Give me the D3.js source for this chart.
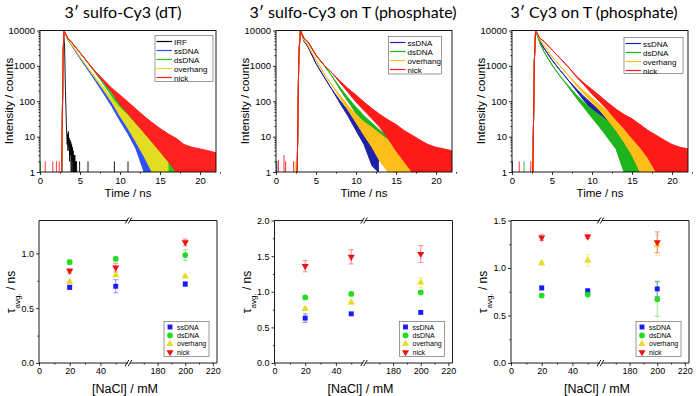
<!DOCTYPE html>
<html>
<head>
<meta charset="utf-8">
<script src="https://cdn.jsdelivr.net/npm/d3@7"></script>
<style>
  body { margin: 0; background: #fff; }
  svg { display: block; font-family: "Liberation Sans", Arial, sans-serif; }
</style>
</head>
<body>
<script>
const width = 696;
const height = 396;

const panelTitles = ['3\u2032 sulfo-Cy3 (dT)', '3\u2032 sulfo-Cy3 on T (phosphate)', '3\u2032 Cy3 on T (phosphate)'];
const seriesNames = ['ssDNA', 'dsDNA', 'overhang', 'nick'];
const timeTicks = [0, 5, 10, 15, 20];
const countTicks = [1, 10, 100, 1000, 10000];
const naclTicks = [0, 20, 40, 180, 200, 220];
const naclValues = [20, 50, 200];

// decay histograms: [time / ns, lower counts, upper counts]
// (lower/upper = extent of the noisy band, equal where the trace is clean)
const dT_irf = [[2.75,1],[2.85,300],[2.95,6000],[3.0,10000],[3.08,3000],[3.18,200],[3.3,20],[3.4,6],[3.45,12],[3.5,4],[3.55,14],
  [3.6,5],[3.65,9],[3.7,2],[3.75,8],[3.8,3],[3.85,7],[3.9,1],[3.95,6],[4.0,2],[4.05,5],[4.1,1],[4.15,4],[4.2,1],[4.25,3],
  [4.3,1],[4.35,3],[4.4,1],[4.45,2],[4.5,1],[4.55,2],[4.6,1]];
const dT_ssDNA = [[2.7,1,1],[2.9,2500,2500],[3.0,10000,10000],[3.5,5400,5400],[4,3700,3700],[5,1650,1650],[6,780,780],
  [7,355,385],[8,160,190],[9,70,95],[10,28,50],[11,12,28],[12,4.5,16],[13,1,9],[14,1,3],[14.2,1,1.5]];
const dT_dsDNA = [[2.7,1,1],[2.9,2500,2500],[3.0,10000,10000],[3.5,5900,5900],[4,4500,4500],[5,2350,2350],[6,1200,1200],
  [7,600,640],[8,290,330],[9,135,165],[10,56,90],[11,26,50],[12,11,28],[13,5,17],[14,2,9],[15,1,4.7],[16,1,3],[17,1,2]];
const dT_overhang = [[2.7,1,1],[2.9,2500,2500],[3.0,10000,10000],[3.5,5500,5500],[4,3900,3900],[5,1780,1780],[6,880,880],
  [7,415,445],[8,200,232],[9,92,120],[10,38,65],[11,17,40],[12,7,22],[13,2.8,13],[14,1,7],[15,1,3.8],[16,1,2]];
const dT_nick = [[2.7,1,1],[2.9,2500,2500],[3.0,10000,10000],[3.5,5900,5900],[4,4500,4500],[5,2350,2350],[6,1230,1230],
  [7,630,670],[8,335,390],[9,175,230],[10,80,150],[11,44,95],[12,24,60],[13,13,38],[14,7,25],[15,3.8,17],[16,2,12],
  [17,1,9],[18,1,6],[19,1,5],[20,1,4.5],[21,1,4],[22,1,3.5]];
const dT_spikes = [[0.05,2,'dsDNA'],[0.65,2,'nick'],[1.6,2,'nick'],[2.05,2,'nick'],[2.4,2,'nick'],
  [4.95,2,'IRF'],[6.0,2,'IRF'],[9.3,2,'IRF'],[11.0,2,'IRF']];

const sulfo_ssDNA = [[2.65,1,1],[2.85,2000,2000],[3.05,10000,10000],[3.5,5000,5000],[4,3450,3450],[5,1170,1170],[6,490,490],
  [7,214,214],[8,88,104],[9,38,54],[10,15,30],[11,6,17],[12,1.5,10],[12.8,1,3]];
const sulfo_dsDNA = [[2.65,1,1],[2.85,2000,2000],[3.05,10000,10000],[3.5,6000,6000],[4,4700,4700],[5,2000,2000],[6,1050,1050],
  [7,510,510],[8,215,245],[9,98,125],[10,46,68],[11,21,39],[12,9,24],[13,4,15],[14,1.5,10],[15,1,5],[16,1,3],[17,1,2]];
const sulfo_overhang = [[2.65,1,1],[2.85,2000,2000],[3.05,10000,10000],[3.5,5300,5300],[4,3800,3800],[5,1450,1450],[6,610,610],
  [7,285,285],[8,122,145],[9,57,76],[10,25,42],[11,11,26],[12,5,18],[13,2,12],[14,1,8],[15,1,5],[16,1,3.5],[17,1,2.5],[18,1,1.8]];
const sulfo_nick = [[2.65,1,1],[2.85,2000,2000],[3.05,10000,10000],[3.5,6000,6000],[4,4800,4800],[5,2000,2000],[6,1050,1050],
  [7,635,635],[8,335,375],[9,180,230],[10,95,150],[11,55,95],[12,32,62],[13,18,42],[14,9,30],[15,4,22],[16,2,15],
  [17,1,11],[18,1,8],[19,1,6],[20,1,5],[21,1,4.5],[22,1,4]];
const sulfo_spikes = [[0.1,2,'ssDNA'],[0.3,2.2,'nick'],[1.0,3,'nick'],[1.2,2,'nick'],[2.2,2,'nick'],[2.4,2,'overhang']];

const cy3_ssDNA = [[2.6,1,1],[2.8,1500,1500],[2.95,10000,10000],[3.5,4900,4900],[4,3150,3150],[5,1470,1470],[6,760,760],
  [7,400,400],[8,205,230],[9,105,135],[10,58,84],[11,34,55],[12,19,36],[13,10,25],[14,5,16],[15,2,11],[16,1,7],[17,1,4],[17.7,1,2.5]];
const cy3_dsDNA = [[2.6,1,1],[2.8,1500,1500],[2.95,10000,10000],[3.5,4370,4370],[4,2520,2520],[5,1060,1060],[6,515,515],
  [7,262,280],[8,128,156],[9,66,92],[10,34,58],[11,18,40],[12,9,27],[13,4.5,18],[14,1,12],[15,1,7],[16,1,4.5],[17,1,2.5]];
const cy3_overhang = [[2.6,1,1],[2.8,1500,1500],[2.95,10000,10000],[3.5,5450,5450],[4,3740,3740],[5,1830,1830],[6,1000,1000],
  [7,550,550],[8,285,315],[9,160,190],[10,92,125],[11,54,80],[12,29,50],[13,15,32],[14,7,24],[15,3,17],[16,1,10],[17,1,6],[18,1,4],[19,1,2.5]];
const cy3_nick = [[2.6,1,1],[2.8,1500,1500],[2.95,10000,10000],[3.5,6000,6000],[4,4900,4900],[5,2830,2830],[6,1650,1650],
  [7,950,950],[8,500,530],[9,290,325],[10,160,215],[11,95,140],[12,55,90],[13,30,60],[14,17,42],[15,9,32],[16,5,22],
  [17,2.5,15],[18,1,11],[19,1,8],[20,1,6],[21,1,5],[22,1,4.5]];
const cy3_spikes = [[0.05,2,'ssDNA'],[0.9,2,'nick'],[1.5,2,'dsDNA'],[2.35,2,'nick']];

// average lifetimes (ns) at 20, 50, 200 mM NaCl, rows in seriesNames order
const tauDT    = [[0.69, 0.70, 0.72], [0.92, 0.95, 0.985], [0.74, 0.80, 0.79], [0.84, 0.87, 1.10]];
const errDT    = [[0.02, 0.06, 0.02], [0.02, 0.02, 0.05], [0.01, 0.01, 0.01], [0.02, 0.04, 0.03]];
const tauSulfo = [[0.63, 0.69, 0.71], [0.92, 0.97, 0.99], [0.76, 0.85, 1.13], [1.36, 1.49, 1.53]];
const errSulfo = [[0.06, 0.02, 0.02], [0.02, 0.02, 0.02], [0.02, 0.02, 0.07], [0.08, 0.10, 0.12]];
const tauCy3   = [[0.79, 0.76, 0.78], [0.71, 0.72, 0.67], [1.05, 1.08, 1.24], [1.32, 1.33, 1.27]];
const errCy3   = [[0.02, 0.02, 0.08], [0.02, 0.02, 0.18], [0.02, 0.06, 0.11], [0.03, 0.02, 0.11]];
const tauMax   = [1.3, 2.0, 1.5];

const svg = d3.select('body').append('svg')
  .attr('width', width)
  .attr('height', height);

const topLeft = [40, 276, 512];
const botLeft = [39, 274.5, 511];
const titleX = [123, 353, 594];

panelTitles.forEach((t, i) => {
  svg.append('text')
    .attr('x', titleX[i]).attr('y', 18)
    .attr('text-anchor', 'middle')
    .style('font-family', 'Lato, "Open Sans", sans-serif')
    .style('font-size', '16px')
    .text(t);
});

function styleAxis(g, size) {
  g.select('.domain').remove();
  g.selectAll('text').style('font-size', size + 'px').style('font-family', '"Liberation Sans", Arial, sans-serif').attr('fill', '#000');
  g.selectAll('line').attr('stroke', '#000').attr('stroke-width', 0.8);
}

// ---------- decay panels ----------
const decayPanels = [
  { curves: [dT_ssDNA, dT_dsDNA, dT_overhang, dT_nick], irf: dT_irf, spikes: dT_spikes,
    colors: ['#2f4fff', '#22cc22', '#e2dc22', '#ff2020'],
    legend: { x: 155, y: 35.5, w: 58, h: 46, names: ['IRF'].concat(seriesNames) } },
  { curves: [sulfo_ssDNA, sulfo_dsDNA, sulfo_overhang, sulfo_nick], spikes: sulfo_spikes,
    colors: ['#1f22a8', '#1db41d', '#ffbe1a', '#ff1a1a'],
    legend: { x: 388.5, y: 36.5, w: 53, h: 37.5, names: seriesNames } },
  { curves: [cy3_ssDNA, cy3_dsDNA, cy3_overhang, cy3_nick], spikes: cy3_spikes,
    colors: ['#1f22a8', '#1db41d', '#ffbe1a', '#ff1a1a'],
    legend: { x: 624, y: 37.5, w: 59, h: 36, names: seriesNames } }
];

decayPanels.forEach((p, i) => {
  const L = topLeft[i];
  const x = d3.scaleLinear().domain([0, 22]).range([L, L + 176]);
  const y = d3.scaleLog().domain([1, 10000]).range([172, 30.5]);
  const g = svg.append('g');
  const colorOf = name => name === 'IRF' ? '#000' : p.colors[seriesNames.indexOf(name)];

  g.append('clipPath').attr('id', 'clipTop' + i)
    .append('rect').attr('x', L).attr('y', 30).attr('width', 176).attr('height', 142);
  const plot = g.append('g').attr('clip-path', `url(#clipTop${i})`);

  p.spikes.forEach(s => {
    plot.append('line')
      .attr('x1', x(s[0])).attr('x2', x(s[0]))
      .attr('y1', y(1)).attr('y2', y(s[1]))
      .attr('stroke', colorOf(s[2])).attr('stroke-width', 0.9);
  });

  if (p.irf) {
    plot.append('path')
      .attr('d', d3.line().x(d => x(d[0])).y(d => y(d[1]))(p.irf))
      .attr('fill', 'none').attr('stroke', '#000').attr('stroke-width', 0.9);
  }

  const band = d3.area().x(d => x(d[0])).y0(d => y(d[1])).y1(d => y(d[2]));
  p.curves.forEach((c, k) => {
    plot.append('path')
      .attr('d', band(c))
      .attr('fill', p.colors[k])
      .attr('stroke', p.colors[k])
      .attr('stroke-width', 1)
      .attr('stroke-linejoin', 'round');
  });

  // axes
  const xa = g.append('g').attr('transform', 'translate(0,172)')
    .call(d3.axisBottom(x).tickValues(timeTicks).tickSize(3).tickPadding(2).tickSizeOuter(0));
  styleAxis(xa, 9.5);
  const xm = g.append('g').attr('transform', 'translate(0,172)')
    .call(d3.axisBottom(x).tickValues(timeTicks.map(t => t + 2.5)).tickSize(1.6).tickFormat(''));
  styleAxis(xm, 9);
  const ya = g.append('g').attr('transform', `translate(${L},0)`)
    .call(d3.axisLeft(y).tickValues(countTicks).tickFormat(d3.format('d')).tickSize(3).tickPadding(2).tickSizeOuter(0));
  styleAxis(ya, 9.5);
  const minor = [];
  countTicks.slice(0, -1).forEach(c => { for (let m = 2; m < 10; m++) minor.push(c * m); });
  const ym = g.append('g').attr('transform', `translate(${L},0)`)
    .call(d3.axisLeft(y).tickValues(minor).tickSize(1.6).tickFormat(''));
  styleAxis(ym, 9);

  g.append('rect')
    .attr('x', L).attr('y', 30.5).attr('width', 176).attr('height', 141.5)
    .attr('fill', 'none').attr('stroke', '#000').attr('stroke-width', 0.9);

  // legend
  const lg = g.append('g');
  lg.append('rect')
    .attr('x', p.legend.x).attr('y', p.legend.y)
    .attr('width', p.legend.w).attr('height', p.legend.h)
    .attr('fill', '#fff').attr('stroke', '#555').attr('stroke-width', 0.6);
  p.legend.names.forEach((n, k) => {
    const ry = p.legend.y + 6 + k * 9;
    lg.append('line')
      .attr('x1', p.legend.x + 1.5).attr('x2', p.legend.x + 17)
      .attr('y1', ry).attr('y2', ry)
      .attr('stroke', colorOf(n)).attr('stroke-width', 1.2);
    lg.append('text')
      .attr('x', p.legend.x + 19).attr('y', ry + 3)
      .style('font-size', '8px')
      .text(n);
  });

  g.append('text')
    .attr('x', L + 88).attr('y', 197)
    .attr('text-anchor', 'middle')
    .style('font-size', '11.5px')
    .text('Time / ns');
  g.append('text')
    .attr('transform', `translate(${L - 27},101) rotate(-90)`)
    .attr('text-anchor', 'middle')
    .style('font-size', '11.5px')
    .text('Intensity / counts');
});

// ---------- lifetime panels ----------
const tauPanels = [
  { tau: tauDT, err: errDT },
  { tau: tauSulfo, err: errSulfo },
  { tau: tauCy3, err: errCy3 }
];
const markerColors = ['#1a1aff', '#22dd22', '#e8dc20', '#ee1111'];
const markerSymbols = [
  d3.symbol().type(d3.symbolSquare).size(24)(),
  d3.symbol().type(d3.symbolCircle).size(26)(),
  d3.symbol().type(d3.symbolTriangle).size(22)(),
  d3.symbol().type(d3.symbolTriangle).size(22)()
];
const markerRotate = [0, 0, 0, 180];

tauPanels.forEach((p, i) => {
  const L = botLeft[i];
  const top = 220.5, bottom = 363;
  const x = d3.scaleLinear().domain([0, 58, 160, 223]).range([L, L + 89, L + 91, L + 178]);
  const y = d3.scaleLinear().domain([0, tauMax[i]]).range([bottom, top]);
  const g = svg.append('g');
  const yTicks = d3.range(0, tauMax[i] + 0.001, 0.5);

  // frame with axis break
  const frame = [[L, L + 89], [L + 91, L + 178]];
  [top, bottom].forEach(yy => frame.forEach(s => {
    g.append('line').attr('x1', s[0]).attr('x2', s[1]).attr('y1', yy).attr('y2', yy)
      .attr('stroke', '#000').attr('stroke-width', 0.9);
  }));
  [L, L + 178].forEach(xx => {
    g.append('line').attr('x1', xx).attr('x2', xx).attr('y1', top).attr('y2', bottom)
      .attr('stroke', '#000').attr('stroke-width', 0.9);
  });
  [top, bottom].forEach(yy => [L + 88, L + 91].forEach(xx => {
    g.append('line').attr('x1', xx - 1.8).attr('x2', xx + 1.8).attr('y1', yy + 3).attr('y2', yy - 3)
      .attr('stroke', '#000').attr('stroke-width', 0.9);
  }));

  const xa = g.append('g').attr('transform', `translate(0,${bottom})`)
    .call(d3.axisBottom(x).tickValues(naclTicks).tickFormat(d3.format('d')).tickSize(3).tickPadding(2));
  styleAxis(xa, 9);
  const xm = g.append('g').attr('transform', `translate(0,${bottom})`)
    .call(d3.axisBottom(x).tickValues([10, 30, 50, 170, 190, 210]).tickSize(1.6).tickFormat(''));
  styleAxis(xm, 9);
  const ya = g.append('g').attr('transform', `translate(${L},0)`)
    .call(d3.axisLeft(y).tickValues(yTicks).tickFormat(d3.format('.1f')).tickSize(3).tickPadding(2));
  styleAxis(ya, 9);
  const ym = g.append('g').attr('transform', `translate(${L},0)`)
    .call(d3.axisLeft(y).tickValues(yTicks.slice(0, -1).map(v => v + 0.25).filter(v => v < tauMax[i])).tickSize(1.6).tickFormat(''));
  styleAxis(ym, 9);

  // error bars then markers
  p.tau.forEach((row, k) => {
    row.forEach((v, j) => {
      const e = p.err[k][j];
      const cx = x(naclValues[j]);
      const eg = g.append('g').attr('stroke', markerColors[k]).attr('stroke-width', 0.8).attr('opacity', 0.6);
      eg.append('line').attr('x1', cx).attr('x2', cx).attr('y1', y(v - e)).attr('y2', y(v + e));
      eg.append('line').attr('x1', cx - 2.5).attr('x2', cx + 2.5).attr('y1', y(v - e)).attr('y2', y(v - e));
      eg.append('line').attr('x1', cx - 2.5).attr('x2', cx + 2.5).attr('y1', y(v + e)).attr('y2', y(v + e));
    });
  });
  p.tau.forEach((row, k) => {
    row.forEach((v, j) => {
      g.append('path')
        .attr('d', markerSymbols[k])
        .attr('transform', `translate(${x(naclValues[j])},${y(v)}) rotate(${markerRotate[k]})`)
        .attr('fill', markerColors[k]);
    });
  });

  // legend
  const lx = L + 125, ly = 321.5;
  g.append('rect').attr('x', lx).attr('y', ly).attr('width', 45).attr('height', 35)
    .attr('fill', '#fff').attr('stroke', '#555').attr('stroke-width', 0.6);
  seriesNames.forEach((n, k) => {
    const ry = ly + 5.5 + k * 8.4;
    g.append('path')
      .attr('d', markerSymbols[k])
      .attr('transform', `translate(${lx + 6},${ry}) rotate(${markerRotate[k]})`)
      .attr('fill', markerColors[k]);
    g.append('text')
      .attr('x', lx + 13).attr('y', ry + 2.5)
      .style('font-size', '7px')
      .text(n);
  });

  g.append('text')
    .attr('x', L + 86).attr('y', 393)
    .attr('text-anchor', 'middle')
    .style('font-size', '12.5px')
    .text('[NaCl] / mM');
  const yl = g.append('text')
    .attr('transform', `translate(${L - 24},${292}) rotate(-90)`)
    .attr('text-anchor', 'middle')
    .style('font-size', '12px');
  yl.append('tspan').text('\u03c4');
  yl.append('tspan').attr('baseline-shift', 'sub').style('font-size', '8px').text('avg.');
  yl.append('tspan').text(' / ns');
});
</script>
</body>
</html>
